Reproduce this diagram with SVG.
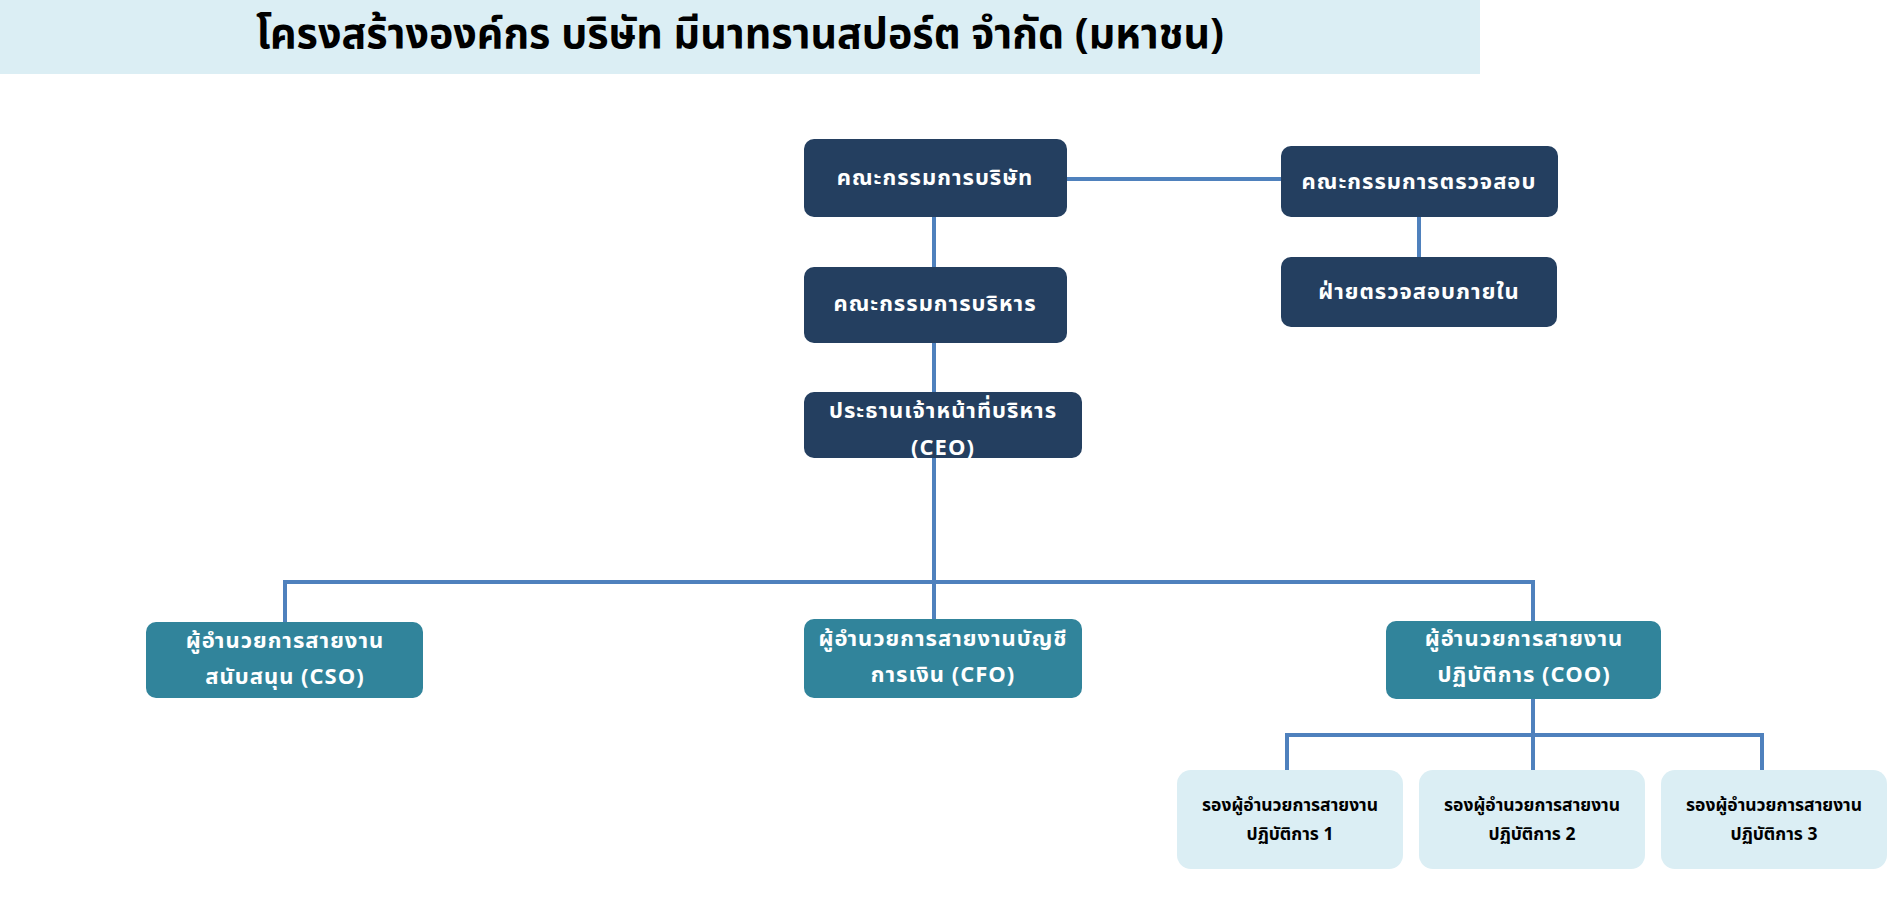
<svg xmlns="http://www.w3.org/2000/svg" width="1894" height="917" viewBox="0 0 1894 917">
<style>
.dark{fill:#243F60}
.teal{fill:#31849B}
.light{fill:#DBEEF4}
.wt{fill:#FFFFFF;font-family:"Noto Sans Thai","Noto Sans","DejaVu Sans",sans-serif;font-weight:bold;font-size:22px;letter-spacing:1px;text-anchor:middle}
.bt{fill:#000000;font-family:"Noto Sans Thai","Noto Sans","DejaVu Sans",sans-serif;font-weight:bold;font-size:17.5px;text-anchor:middle}
.title{fill:#000000;font-family:"Noto Sans Thai","Noto Sans","DejaVu Sans",sans-serif;font-weight:bold;font-size:42px;text-anchor:middle}
.con{fill:none;stroke:#4F81BD;stroke-width:4}
</style>
<rect x="0" y="0" width="1480" height="74" fill="#DBEEF4"/>
<text class="title" x="740" y="48" textLength="968" lengthAdjust="spacingAndGlyphs">โครงสร้างองค์กร บริษัท มีนาทรานสปอร์ต จำกัด (มหาชน)</text>
<g id="connectors">
<line class="con" x1="1067" y1="179" x2="1281" y2="179"/>
<line class="con" x1="1419" y1="217" x2="1419" y2="257"/>
<line class="con" x1="934" y1="217" x2="934" y2="267"/>
<line class="con" x1="934" y1="343" x2="934" y2="392"/>
<line class="con" x1="934" y1="458" x2="934" y2="619"/>
<polyline class="con" points="285,622 285,582 1533,582 1533,621"/>
<line class="con" x1="1533" y1="699" x2="1533" y2="770"/>
<polyline class="con" points="1287,770 1287,735 1762,735 1762,770"/>
</g>
<g id="board"><rect class="dark" x="804" y="139" width="263" height="78" rx="10"/><text class="wt" x="935" y="185">คณะกรรมการบริษัท</text></g>
<g id="audit-committee"><rect class="dark" x="1281" y="146" width="277" height="71" rx="10"/><text class="wt" x="1419" y="189">คณะกรรมการตรวจสอบ</text></g>
<g id="internal-audit"><rect class="dark" x="1281" y="257" width="276" height="70" rx="10"/><text class="wt" x="1419" y="299">ฝ่ายตรวจสอบภายใน</text></g>
<g id="executive-committee"><rect class="dark" x="804" y="267" width="263" height="76" rx="10"/><text class="wt" x="935" y="311">คณะกรรมการบริหาร</text></g>
<g id="ceo"><rect class="dark" x="804" y="392" width="278" height="66" rx="10"/><text class="wt" x="943" y="418">ประธานเจ้าหน้าที่บริหาร</text><text class="wt" x="943" y="455">(CEO)</text></g>
<g id="cso"><rect class="teal" x="146" y="622" width="277" height="76" rx="10"/><text class="wt" x="285" y="648">ผู้อำนวยการสายงาน</text><text class="wt" x="285" y="684">สนับสนุน (CSO)</text></g>
<g id="cfo"><rect class="teal" x="804" y="619" width="278" height="79" rx="10"/><text class="wt" x="943" y="646">ผู้อำนวยการสายงานบัญชี</text><text class="wt" x="943" y="682">การเงิน (CFO)</text></g>
<g id="coo"><rect class="teal" x="1386" y="621" width="275" height="78" rx="10"/><text class="wt" x="1524" y="646">ผู้อำนวยการสายงาน</text><text class="wt" x="1524" y="682">ปฏิบัติการ (COO)</text></g>
<g id="vp-ops-1"><rect class="light" x="1177" y="770" width="226" height="99" rx="14"/><text class="bt" x="1290" y="811">รองผู้อำนวยการสายงาน</text><text class="bt" x="1290" y="840">ปฏิบัติการ 1</text></g>
<g id="vp-ops-2"><rect class="light" x="1419" y="770" width="226" height="99" rx="14"/><text class="bt" x="1532" y="811">รองผู้อำนวยการสายงาน</text><text class="bt" x="1532" y="840">ปฏิบัติการ 2</text></g>
<g id="vp-ops-3"><rect class="light" x="1661" y="770" width="226" height="99" rx="14"/><text class="bt" x="1774" y="811">รองผู้อำนวยการสายงาน</text><text class="bt" x="1774" y="840">ปฏิบัติการ 3</text></g>
</svg>
